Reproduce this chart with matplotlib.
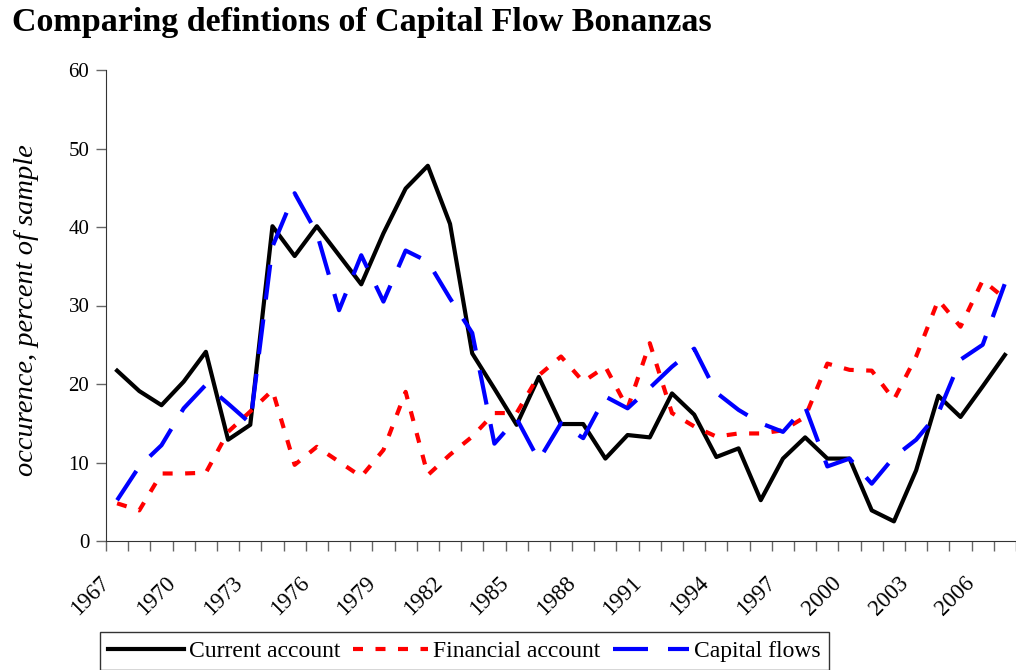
import numpy as np
import matplotlib.pyplot as plt
import matplotlib.transforms as mtransforms

years = list(range(1967, 2008))

current_account = [21.7, 19.1, 17.3, 20.3, 24.1, 12.9, 14.8, 40.1, 36.3, 40.1,
                   36.4, 32.7, 39.2, 44.9, 47.8, 40.4, 23.9, 19.4, 14.8, 20.9,
                   14.9, 14.9, 10.5, 13.5, 13.2, 18.8, 16.1, 10.7, 11.8, 5.2,
                   10.5, 13.2, 10.5, 10.5, 3.9, 2.5, 9.0, 18.5, 15.8, 19.7,
                   23.7]

financial_account = [4.8, 3.9, 8.6, 8.6, 8.7, 13.9, 16.5, 19.2, 9.7, 12.0,
                     10.1, 8.2, 11.6, 19.0, 8.4, 11.0, 13.3, 16.3, 16.3, 21.1,
                     23.5, 20.3, 22.2, 16.9, 25.2, 16.3, 14.6, 13.3, 13.7, 13.7,
                     14.1, 15.8, 22.6, 21.8, 21.7, 18.0, 23.5, 30.7, 27.3, 33.2,
                     30.9]

capital_flows = [5.2, 9.5, 12.2, 16.9, 19.9, 17.5, 15.0, 37.5, 44.3, 39.2,
                 29.4, 36.4, 30.5, 37.0, 35.6, 30.9, 26.5, 12.4, 15.6, 10.3,
                 15.0, 13.1, 18.4, 16.9, 19.5, 22.2, 24.5, 18.9, 16.7, 15.0,
                 13.9, 17.1, 9.5, 10.5, 7.3, 10.7, 12.9, 16.3, 23.1, 25.0,
                 32.8]

plt.rcParams['font.family'] = ['Liberation Serif', 'DejaVu Serif']

W, H = 1016, 670
fig = plt.figure(figsize=(W / 100, H / 100), dpi=100)
ax = fig.add_axes([106 / W, 1 - 541 / H, 910 / W, 471 / H])

x = np.arange(len(years))
ax.plot(x, current_account, color='black', lw=3, label='Current account')
ax.plot(x, financial_account, color='#ff0000', lw=3, dashes=(2.4, 3.0),
        label='Financial account')
ax.plot(x, capital_flows, color='#0000ff', lw=3, dashes=(8.4, 4.8),
        label='Capital flows')

ax.set_xlim(-0.5, len(years) - 0.5)
ax.set_ylim(0, 60)
ax.set_yticks(range(0, 61, 10))

# labels every third year, tick marks at category boundaries
ax.set_xticks(x[::3])
ax.set_xticklabels([str(y) for y in years[::3]])
ax.set_xticks(np.arange(-0.5, len(years)), minor=True)
ax.tick_params(axis='x', which='major', length=0, pad=28, labelsize=16.5)
ax.tick_params(axis='x', which='minor', length=7, width=1, color='#666666',
               direction='out')
ax.tick_params(axis='y', length=7, width=1, color='#666666', direction='out',
               labelsize=15, pad=5)
offset = mtransforms.ScaledTranslation(-11 / 100, 0, fig.dpi_scale_trans)
for lab in ax.get_xticklabels():
    lab.set_rotation(45)
    lab.set_ha('right')
    lab.set_va('center')
    lab.set_rotation_mode('anchor')
    lab.set_transform(lab.get_transform() + offset)

for s in ['top', 'right']:
    ax.spines[s].set_visible(False)
ax.spines['left'].set_color('#333333')
ax.spines['bottom'].set_color('#333333')

fig.text(12 / W, 1 - 22 / H, 'Comparing defintions of Capital Flow Bonanzas',
         fontsize=24.5, fontweight='bold', va='center', ha='left')
fig.text(27 / W, 1 - 310 / H, 'occurence, percent of sample', rotation=90,
         fontsize=20.5, style='italic', va='center', ha='center')

leg = fig.legend(loc='upper left', bbox_to_anchor=(100 / W, 1 - 632 / H),
                 ncol=3, frameon=True, fancybox=False, fontsize=17,
                 handlelength=3.2, handletextpad=0.2, columnspacing=0.55,
                 borderaxespad=0, borderpad=0.35)
leg.get_frame().set_edgecolor('black')
leg.get_frame().set_linewidth(1)

fig.savefig('out.png', dpi=100)
